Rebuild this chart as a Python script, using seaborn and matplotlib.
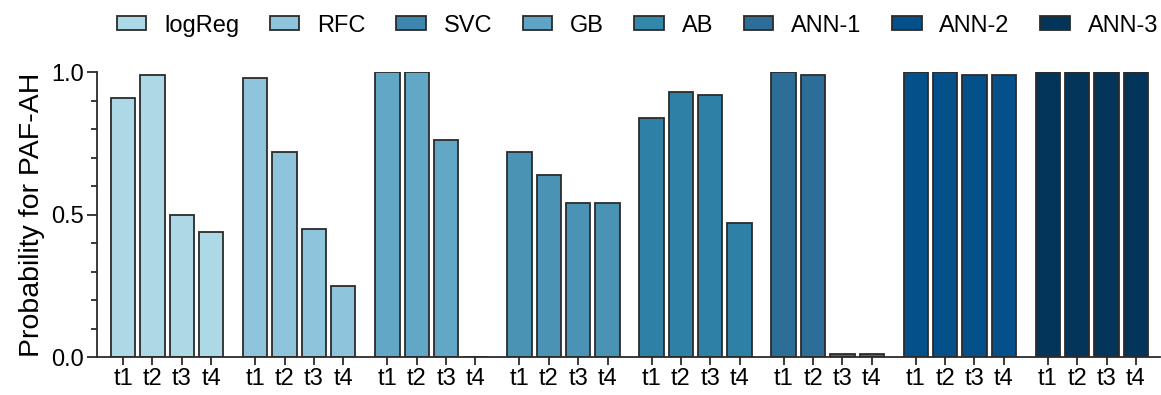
import matplotlib
matplotlib.use("Agg")
import matplotlib.pyplot as plt
from matplotlib.patches import Patch
from matplotlib.ticker import MultipleLocator
import numpy as np
import pandas as pd
import seaborn as sns

# Predicted probability for PAF-AH at four time points, per classifier
models = ["logReg", "RFC", "SVC", "GB", "AB", "ANN-1", "ANN-2", "ANN-3"]
timepoints = ["t1", "t2", "t3", "t4"]
logreg = [0.91, 0.99, 0.50, 0.44]
rfc = [0.98, 0.72, 0.45, 0.25]
svc = [1.00, 1.00, 0.76, 0.00]
gb = [0.72, 0.64, 0.54, 0.54]
ab = [0.84, 0.93, 0.92, 0.47]
ann1 = [1.00, 0.99, 0.01, 0.01]
ann2 = [1.00, 1.00, 0.99, 0.99]
ann3 = [1.00, 1.00, 1.00, 1.00]
series = [logreg, rfc, svc, gb, ab, ann1, ann2, ann3]

bar_colors = ["#add8e6", "#8ec5dd", "#62a7c6", "#4a93b4",
              "#2e80a6", "#2d6e99", "#03508a", "#03345a"]
legend_colors = ["#add8e6", "#8ec5dd", "#3d86ad", "#5fa4c4",
                 "#3388aa", "#2d6e99", "#03508a", "#03345a"]

sns.set_theme(style="ticks")
plt.rcParams["font.family"] = ["Liberation Sans", "DejaVu Sans"]
plt.rcParams["text.color"] = "black"
plt.rcParams["axes.labelcolor"] = "black"
plt.rcParams["xtick.color"] = "black"
plt.rcParams["ytick.color"] = "black"

# Groups of four bars separated by a one-and-a-half bar gap
group_step = len(timepoints) + 0.5
rows = []
for g, (model, vals) in enumerate(zip(models, series)):
    for i, (tp, v) in enumerate(zip(timepoints, vals)):
        rows.append({"model": model, "time": tp, "pos": g * group_step + i, "prob": v})
df = pd.DataFrame(rows)

fig = plt.figure(figsize=(11.61, 3.95), dpi=100)
ax = fig.add_axes([97 / 1161, 1 - 357 / 395, (1160 - 97) / 1161, (357 - 72) / 395])

edge = "#2b2b2b"
sns.barplot(data=df, x="pos", y="prob", hue="model", hue_order=models,
            palette=dict(zip(models, bar_colors)), native_scale=True,
            dodge=False, width=0.83, saturation=1, edgecolor=edge,
            linewidth=1.3, legend=False, ax=ax)

ax.set_ylim(0, 1.0)
ax.set_xlim(-0.89, df["pos"].max() + 0.82)
ax.yaxis.set_minor_locator(MultipleLocator(0.1))
ax.set_yticks([0.0, 0.5, 1.0])
ax.set_yticklabels(["0.0", "0.5", "1.0"])
ax.set_xticks(df["pos"].to_numpy())
ax.set_xticklabels(df["time"].tolist())
ax.set_xlabel("")
ax.set_ylabel("Probability for PAF-AH", fontsize=20.5, labelpad=4)

sns.despine(ax=ax)
for side in ("left", "bottom"):
    ax.spines[side].set_linewidth(1.3)
    ax.spines[side].set_color(edge)
ax.tick_params(axis="y", which="major", length=7.5, width=1.3, color=edge,
               labelsize=17, pad=2)
ax.tick_params(axis="y", which="minor", length=4.5, width=1.3, color=edge)
ax.tick_params(axis="x", which="major", length=6, width=1.3, color=edge,
               labelsize=17, pad=2)

handles = [Patch(facecolor=c, edgecolor=edge, linewidth=1.3, label=m)
           for m, c in zip(models, legend_colors)]
fig.legend(handles=handles, loc="center", bbox_to_anchor=(0.549, 0.935),
           ncol=8, frameon=False, fontsize=17, handlelength=1.25,
           handleheight=0.55, handletextpad=0.75, columnspacing=1.3,
           borderaxespad=0, borderpad=0)

fig.savefig("out.png", dpi=100)
